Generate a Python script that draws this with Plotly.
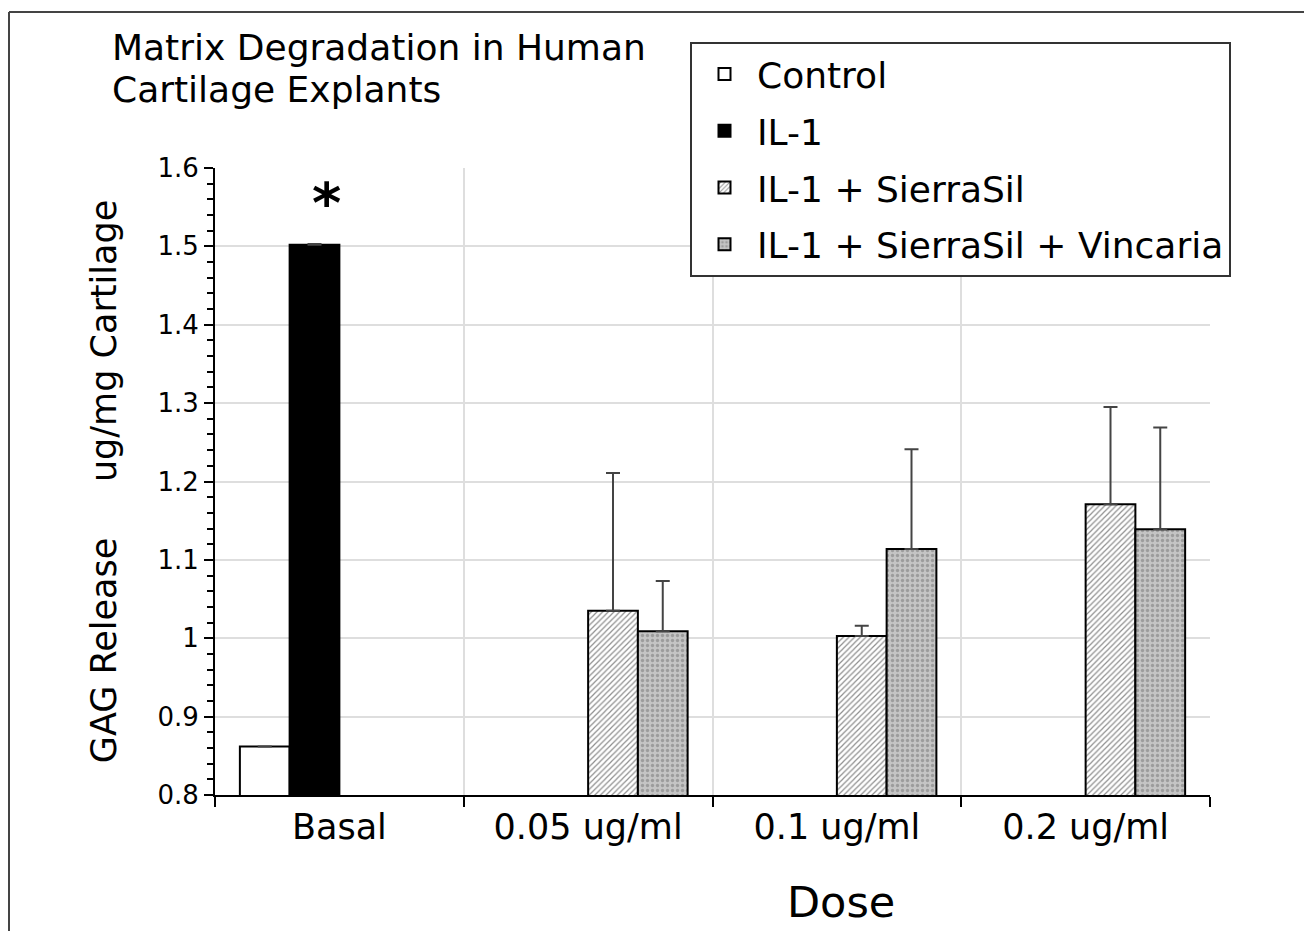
import plotly.graph_objects as go

categories = ["Basal", "0.05 ug/ml", "0.1 ug/ml", "0.2 ug/ml"]
series_names = ["Control", "IL-1", "IL-1 + SierraSil", "IL-1 + SierraSil + Vincaria"]
control_vals = [0.862, None, None, None]
control_err = [0.0, 0, 0, 0]
il1_vals = [1.502, None, None, None]
il1_err = [0.001, 0, 0, 0]
sierrasil_vals = [None, 1.035, 1.003, 1.171]
sierrasil_err = [0, 0.176, 0.013, 0.124]
vincaria_vals = [None, 1.009, 1.114, 1.139]
vincaria_err = [0, 0.064, 0.127, 0.130]

FONT = "DejaVu Sans, Liberation Sans, Arial, sans-serif"

# page has an 8px body margin; figure is sized to fit inside it
W, H = 1296, 923
OFF = 8
PL, PR, PT, PB = 215, 1210, 168, 795  # plot area in page pixels


def px(x):
    return (x - PL) / (PR - PL)


def py(y):
    return (PB - y) / (PB - PT)


styles = [
    dict(color="white", pattern=None),
    dict(color="black", pattern=None),
    dict(color="white", pattern=dict(shape="/", bgcolor="white", fgcolor="#8f8f8f", size=4, solidity=0.3, fillmode="replace")),
    dict(color="#c2c2c2", pattern=dict(shape=".", bgcolor="#c4c4c4", fgcolor="#9c9c9c", size=5, solidity=0.35, fillmode="replace")),
]
values = [control_vals, il1_vals, sierrasil_vals, vincaria_vals]
errors = [control_err, il1_err, sierrasil_err, vincaria_err]

fig = go.Figure()
for i, (name, vals, errs, st) in enumerate(zip(series_names, values, errors, styles)):
    marker = dict(color=st["color"], line=dict(color="black", width=2))
    if st["pattern"]:
        marker["pattern"] = st["pattern"]
    fig.add_trace(go.Bar(
        x=categories, y=vals, name=name, marker=marker, legendgroup=f"g{i}",
        error_y=dict(type="data", array=errs, symmetric=False, arrayminus=[0]*4,
                     color="#444444", thickness=2, width=7, visible=True),
    ))

fig.update_layout(
    width=W, height=H,
    barmode="group", bargap=0.2, bargroupgap=0,
    plot_bgcolor="white", paper_bgcolor="white",
    margin=dict(l=PL - OFF, r=(OFF + W) - PR, t=PT - OFF, b=(OFF + H) - PB),
    font=dict(family=FONT, color="black"),
    legend=dict(x=px(690), y=py(42), xanchor="left", yanchor="top",
                bordercolor="#333333", borderwidth=2, bgcolor="white",
                font=dict(size=36, family=FONT, color="black"),
                tracegroupgap=7, traceorder="grouped", itemwidth=55),
    showlegend=True,
)
fig.update_xaxes(
    type="category", tickson="boundaries", ticks="outside", ticklen=10, tickwidth=2,
    tickcolor="black", showline=True, linecolor="black", linewidth=2,
    showgrid=True, gridcolor="#dedede", gridwidth=2,
    tickfont=dict(size=35, family=FONT, color="black"),
)
fig.update_yaxes(
    range=[0.8, 1.6], dtick=0.1, tick0=0.8, ticks="outside", ticklen=9, tickwidth=2,
    tickcolor="black", showline=True, linecolor="black", linewidth=2,
    showgrid=True, gridcolor="#dedede", gridwidth=2, zeroline=False,
    tickfont=dict(size=26, family=FONT, color="black"),
    minor=dict(dtick=0.02, ticks="outside", ticklen=6, tickwidth=2, tickcolor="black", showgrid=False),
    title=dict(text="GAG Release&nbsp;&nbsp;&nbsp;&nbsp;&nbsp;ug/mg Cartilage",
               font=dict(size=35, family=FONT, color="black"), standoff=30),
)

# x-axis title (placed off-centre as in the original)
fig.add_annotation(text="Dose", xref="paper", yref="paper", x=px(841), y=py(902),
                   xanchor="center", yanchor="middle", showarrow=False,
                   font=dict(size=43, family=FONT, color="black"))

# title lines
fig.add_annotation(text="Matrix Degradation in Human", xref="paper", yref="paper",
                   x=px(110), y=py(25), xanchor="left", yanchor="top", showarrow=False,
                   font=dict(size=36, family=FONT, color="black"))
fig.add_annotation(text="Cartilage Explants", xref="paper", yref="paper",
                   x=px(110), y=py(67), xanchor="left", yanchor="top", showarrow=False,
                   font=dict(size=36, family=FONT, color="black"))

# significance marker
fig.add_annotation(text="<b>*</b>", xref="x", x="Basal", xshift=-13, yref="y", y=1.556,
                   showarrow=False, font=dict(size=56, family=FONT, color="black"))

# outer frame of the figure (top and left edges visible)
fig.add_shape(type="line", xref="paper", yref="paper", x0=px(9), x1=px(1340), y0=py(12), y1=py(12),
              line=dict(color="#444444", width=2), layer="above")
fig.add_shape(type="line", xref="paper", yref="paper", x0=px(9), x1=px(9), y0=py(12), y1=py(960),
              line=dict(color="#444444", width=2), layer="above")

fig.write_html("out.html")
